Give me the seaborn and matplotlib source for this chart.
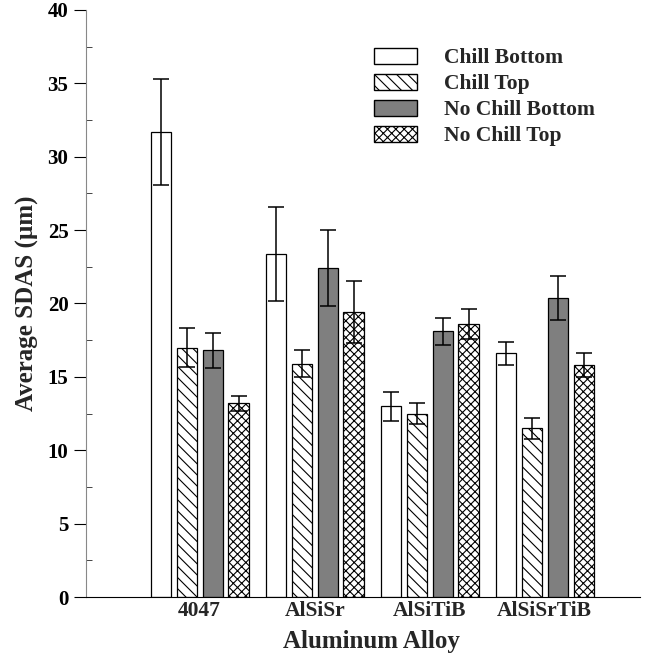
import numpy as np
import pandas as pd
import matplotlib
matplotlib.use('Agg')
import matplotlib.pyplot as plt
import seaborn as sns
from matplotlib.patches import Patch

alloys = ['4047', 'AlSiSr', 'AlSiTiB', 'AlSiSrTiB']
conditions = ['Chill Bottom', 'Chill Top', 'No Chill Bottom', 'No Chill Top']

chill_bottom = [31.7, 23.4, 13.0, 16.6]
chill_top = [17.0, 15.9, 12.5, 11.5]
nochill_bottom = [16.8, 22.4, 18.1, 20.4]
nochill_top = [13.2, 19.4, 18.6, 15.8]

chill_bottom_err = [3.6, 3.2, 1.0, 0.8]
chill_top_err = [1.3, 0.9, 0.7, 0.7]
nochill_bottom_err = [1.2, 2.6, 0.9, 1.5]
nochill_top_err = [0.5, 2.1, 1.0, 0.8]

vals = [chill_bottom, chill_top, nochill_bottom, nochill_top]
errs = [chill_bottom_err, chill_top_err, nochill_bottom_err, nochill_top_err]

rows = []
for c, v, e in zip(conditions, vals, errs):
    for a, vv, ee in zip(alloys, v, e):
        rows.append({'alloy': a, 'cond': c, 'sdas': vv, 'err': ee})
df = pd.DataFrame(rows)

sns.set_style('ticks')
plt.rcParams['font.family'] = ['Liberation Serif', 'DejaVu Serif']
plt.rcParams['font.weight'] = 'bold'
plt.rcParams['hatch.linewidth'] = 0.8

fig = plt.figure(figsize=(6.5, 6.59), dpi=100)
ax = fig.add_axes([0.132, 0.094, 0.853, 0.891])

fills = ['white', 'white', '#7f7f7f', 'white']
hatches = ['', '\\\\\\', '', 'xxxx']

sns.barplot(data=df, x='alloy', y='sdas', hue='cond', order=alloys, hue_order=conditions,
            width=0.9, gap=0.22, errorbar=None, ax=ax, edgecolor='black', linewidth=0.9)

# style bars + error bars
bar_containers = list(ax.containers)
for i, cont in enumerate(bar_containers):
    for bar, e in zip(cont, errs[i]):
        bar.set_facecolor(fills[i])
        bar.set_hatch(hatches[i])
        bar.set_edgecolor('black')
        x = bar.get_x() + bar.get_width() / 2
        ax.errorbar(x, bar.get_height(), yerr=e, color='black', capsize=6, elinewidth=1.1,
                    capthick=1.1, fmt='none')

if ax.legend_:
    ax.legend_.remove()
leg_handles = [Patch(facecolor=fills[i], edgecolor='black', hatch=hatches[i], label=conditions[i])
               for i in range(4)]
ax.legend(handles=leg_handles, loc='upper left', bbox_to_anchor=(0.52, 0.935), frameon=False,
          prop={'weight': 'bold', 'size': 15.5}, handlelength=2.0, handleheight=0.75,
          handletextpad=1.25, labelspacing=0.26, borderpad=0, borderaxespad=0)

ax.set_xlim(-0.99, 3.83)
ax.set_ylim(0, 40)
ax.set_yticks(np.arange(0, 41, 5))
ax.set_yticks(np.arange(2.5, 40, 5), minor=True)
ax.tick_params(axis='y', which='major', direction='out', length=9, labelsize=15, colors='black')
ax.tick_params(axis='y', which='minor', direction='in', length=4)
ax.tick_params(axis='x', length=0, labelsize=15.5, pad=3)
for lab in ax.get_xticklabels() + ax.get_yticklabels():
    lab.set_fontweight('bold')

sns.despine(ax=ax)
ax.spines['left'].set_color('#888888')
ax.spines['bottom'].set_color('black')
ax.set_xlabel('Aluminum Alloy', fontsize=18, fontweight='bold', labelpad=6)
ax.xaxis.label.set_x(0.516)
ax.set_ylabel('Average SDAS (µm)', fontsize=18, fontweight='bold', labelpad=6)

fig.savefig('out.png', dpi=100)
